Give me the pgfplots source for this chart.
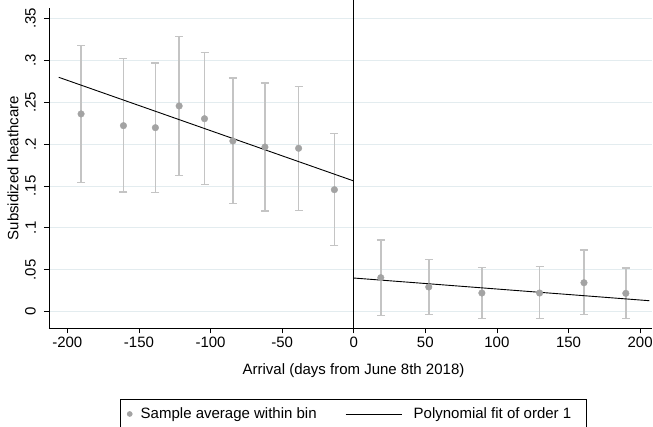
\documentclass[border=0pt]{standalone}
\usepackage{pgfplots}
\pgfplotsset{compat=1.18}
\usepackage{fontspec}
\setmainfont{Liberation Sans}
\definecolor{gridc}{HTML}{E3ECEF}
\definecolor{mk}{HTML}{A3A3A3}
\definecolor{eb}{HTML}{C4C4C4}
\newcommand{\fs}{\fontsize{15}{18}\selectfont}
\begin{document}
\begin{tikzpicture}
\begin{axis}[
  scale only axis, width=603pt, height=320.3pt,
  xmin=-212.8, xmax=208.3, ymin=-0.0198, ymax=0.3624,
  axis x line*=bottom, axis y line*=left,
  axis line style={line width=0.8pt},
  clip=false,
  tick align=outside, major tick length=5pt,
  tick style={black, line width=0.8pt},
  xtick={-200,-150,-100,-50,0,50,100,150,200},
  xticklabels={-200,-150,-100,-50,0,50,100,150,200},
  ytick={0,0.05,0.1,0.15,0.2,0.25,0.3,0.35},
  yticklabels={0,.05,.1,.15,.2,.25,.3,.35},
  ymajorgrids, major grid style={gridc, line width=0.9pt},
  ticklabel style={font=\fs},
  xticklabel style={anchor=north, inner sep=0pt},
  xticklabel shift=4pt,
  yticklabel style={rotate=90, anchor=south, inner sep=0pt},
  yticklabel shift=8pt,
  xlabel={Arrival (days from June 8th 2018)},
  xlabel style={font=\fs, at={([xshift=3pt,yshift=-35.2pt]axis description cs:0.5,0)}, anchor=north, inner sep=0pt},
  ylabel={Subsidized heathcare},
  ylabel style={font=\fs, at={([xshift=-30.3pt]axis description cs:0,0.5)}, anchor=south, inner sep=0pt},
  legend columns=2,
  legend style={draw=black, line width=0.6pt, font=\fs,
    at={([xshift=3pt,yshift=-70.7pt]axis description cs:0.5,0)}, anchor=north,
    inner xsep=0pt, inner ysep=8.5pt, column sep=0pt,
    nodes={inner sep=0pt}},
]
\coordinate (sw) at (rel axis cs:0,0);
\coordinate (ne) at (rel axis cs:1,1);
% error bars
\addplot[forget plot, only marks, mark=none,
  error bars/.cd, y dir=both, y explicit,
  error bar style={eb, line width=1.6pt},
  error mark options={eb, line width=1.4pt, mark size=4pt, rotate=90}]
  table[x=x, y=y, y error plus expr=\thisrow{hi}-\thisrow{y}, y error minus expr=\thisrow{y}-\thisrow{lo}] {
x y lo hi
-190.4 0.2360 0.1540 0.3180
-160.8 0.2220 0.1430 0.3020
-138.5 0.2196 0.1425 0.2970
-121.9 0.2455 0.1623 0.3286
-104.2 0.2303 0.1516 0.3090
-84.4 0.2037 0.1289 0.2790
-62.0 0.1965 0.1202 0.2729
-38.5 0.1950 0.1210 0.2690
-13.5 0.1456 0.0788 0.2124
18.9 0.0406 -0.0048 0.0856
52.4 0.0295 -0.0031 0.0620
89.5 0.0223 -0.0079 0.0530
129.8 0.0223 -0.0079 0.0537
160.8 0.0346 -0.0036 0.0736
190.0 0.0219 -0.0079 0.0520
};
% points
\addplot[forget plot, only marks, mark=*, mark size=3.3pt, mark options={draw=mk, fill=mk}]
  table[x=x, y=y] {
x y
-190.4 0.2360
-160.8 0.2220
-138.5 0.2196
-121.9 0.2455
-104.2 0.2303
-84.4 0.2037
-62.0 0.1965
-38.5 0.1950
-13.5 0.1456
18.9 0.0406
52.4 0.0295
89.5 0.0223
129.8 0.0223
160.8 0.0346
190.0 0.0219
};
% fit lines
\addplot[forget plot, black, line width=0.9pt] coordinates {(-206,0.2797) (0,0.1560)};
\addplot[forget plot, black, line width=0.9pt] coordinates {(0,0.0402) (206.5,0.0131)};
% cutoff line
\addplot[forget plot, black, line width=0.9pt] coordinates {(0,-0.0198) (0,0.3722)};
% legend
\addlegendimage{legend image code/.code={\path[draw=none,fill=none] (-9pt,0) -- (11pt,0); \fill[mk] (0,0) circle (2.5pt);}}
\addlegendentry{Sample average within bin}
\addlegendimage{legend image code/.code={\path[draw=none,fill=none] (-29pt,0) -- (68pt,0); \draw[black, line width=0.7pt] (0,0) -- (56pt,0);}}
\addlegendentry{Polynomial fit of order 1\hspace*{15pt}}
\end{axis}
\pgfresetboundingbox
\path ([shift={(-49pt,-98.7pt)}]sw) rectangle ([shift={(1pt,8pt)}]ne);
\end{tikzpicture}
\end{document}
